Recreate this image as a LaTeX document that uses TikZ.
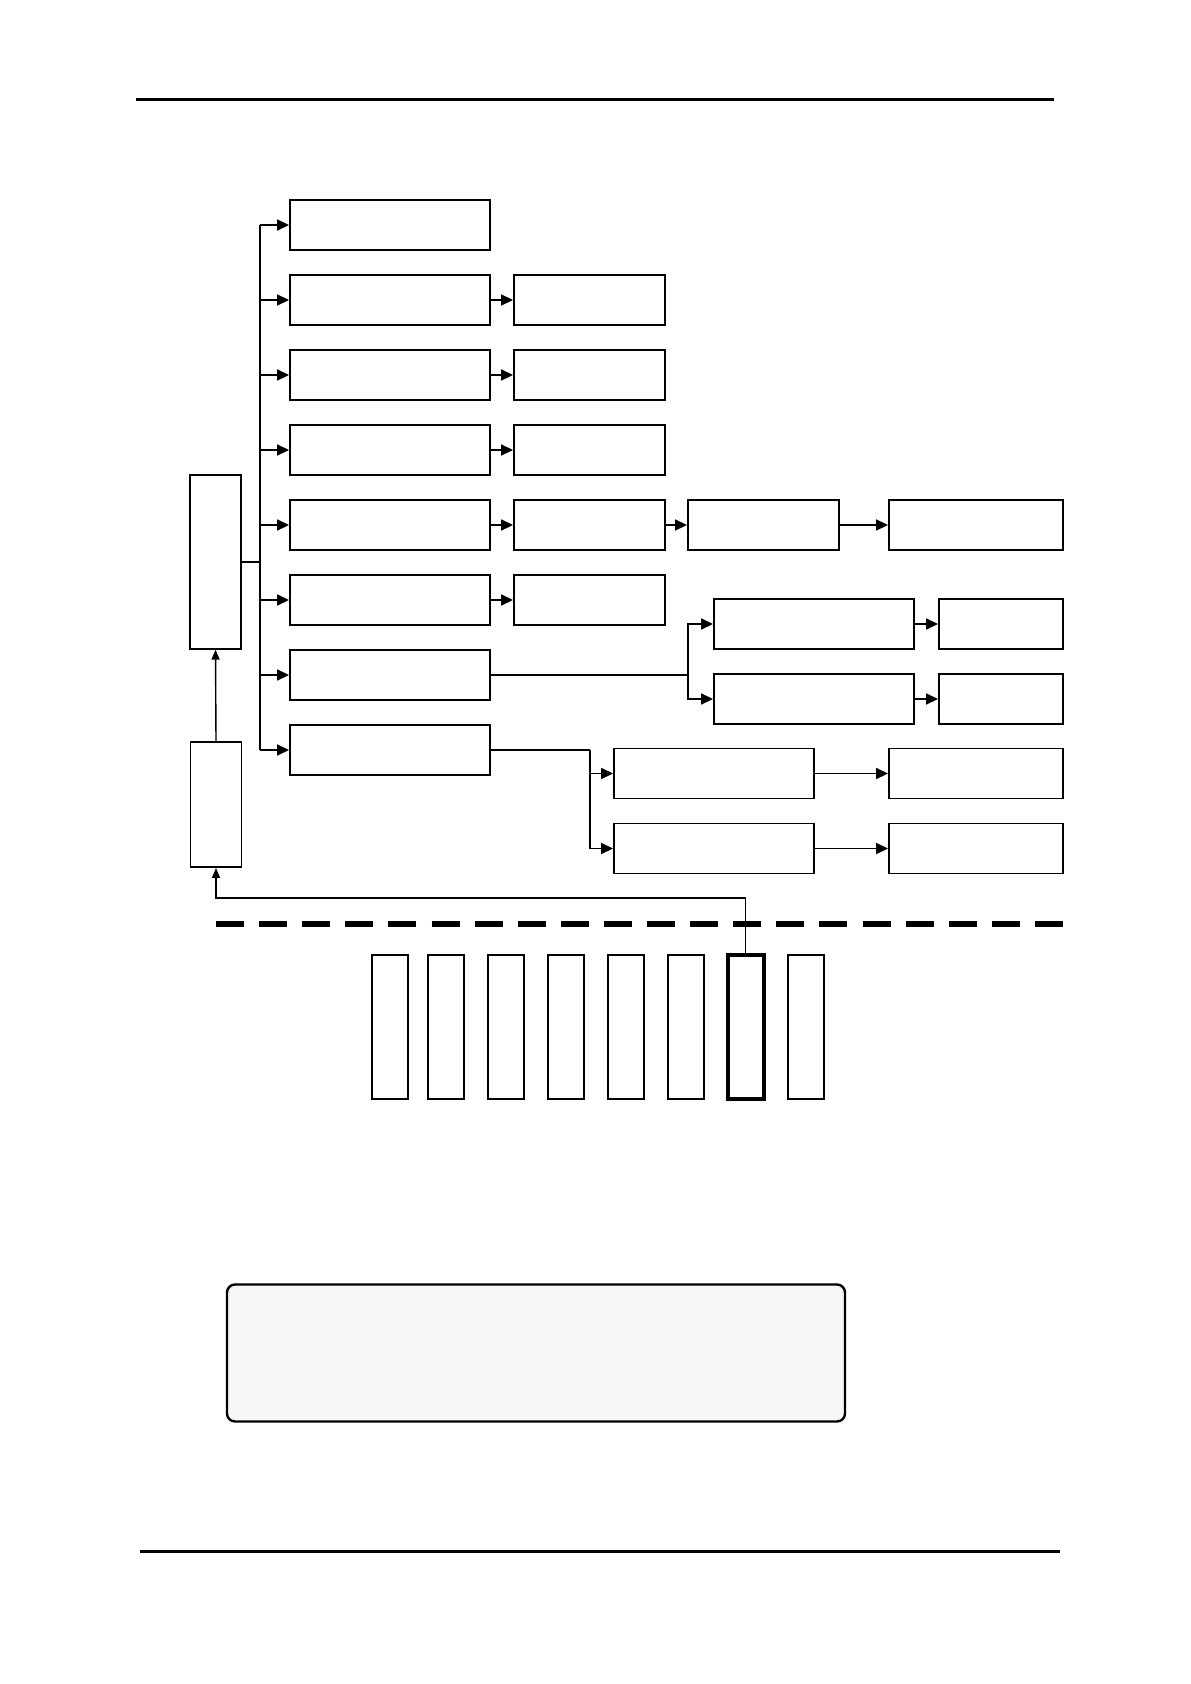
\documentclass[tikz,border=0pt]{standalone}
\usepackage{tikz}
\usetikzlibrary{arrows.meta}
\usepackage{xcolor}

\begin{document}
\begin{tikzpicture}[x=1pt, y=-1pt,
  block/.style={draw, line width=1.9pt, inner sep=0pt, minimum height=50pt},
  slim/.style={draw, line width=1.7pt, inner sep=0pt, minimum width=36pt, minimum height=144pt},
  feeds/.style={-{Triangle[length=12pt, width=11pt]}, line width=1.7pt},
  lift/.style={-{Triangle[length=10pt, width=8pt]}, line width=1.4pt},
  rule/.style={line width=3pt}
]
  \useasboundingbox (0,0) rectangle (1191,1684);

  % page rules
  \draw[rule] (136,99) -- (1054,99);
  \draw[rule] (140,1551) -- (1060,1551);

  % left column
  \node[block, minimum width=51pt, minimum height=174pt] (top) at (215.5,561.7) {};
  \node[block, minimum width=51pt, minimum height=125pt] (low) at (216,804.5) {};

  % first and second column
  \foreach \i in {1,...,8}
    \node[block, minimum width=200pt] (r\i) at (390,{225+75*(\i-1)}) {};
  \foreach \i in {2,...,6}
    \node[block, minimum width=151pt] (c\i) at (589.5,{225+75*(\i-1)}) {};

  \node[block, minimum width=151pt] (c5b) at (763.5,525) {};
  \node[block, minimum width=174pt] (c5c) at (976,525) {};

  \node[block, minimum width=200pt] (b7a) at (814,624) {};
  \node[block, minimum width=200pt] (b7b) at (814,699) {};
  \node[block, minimum width=124pt] (e7a) at (1001,624) {};
  \node[block, minimum width=124pt] (e7b) at (1001,699) {};

  \node[block, minimum width=200pt] (b8a) at (714,773.5) {};
  \node[block, minimum width=200pt] (b8b) at (714,848.5) {};
  \node[block, minimum width=174pt] (e8a) at (976,773.5) {};
  \node[block, minimum width=174pt] (e8b) at (976,848.5) {};

  % bus
  \coordinate (bus) at (260,561.7);
  \draw[line width=1.7pt] (top.east |- bus) -- (bus);
  \draw[line width=1.7pt] (bus |- r1.west) -- (bus |- r8.west);
  \foreach \i in {1,...,8}
    \draw[feeds] (bus |- r\i.west) -- (r\i.west);
  \foreach \i in {2,...,6}
    \draw[feeds] (r\i.east) -- (c\i.west);
  \draw[feeds] (c5.east) -- (c5b.west);
  \draw[feeds] (c5b.east) -- (c5c.west);

  \coordinate (j7) at (688,675);
  \draw[line width=1.7pt] (r7.east) -- (j7);
  \draw[feeds] (j7) |- (b7a.west);
  \draw[feeds] (j7) |- (b7b.west);
  \draw[feeds] (b7a.east) -- (e7a.west);
  \draw[feeds] (b7b.east) -- (e7b.west);

  \coordinate (j8) at (590,750);
  \draw[line width=1.7pt] (r8.east) -- (j8);
  \draw[feeds] (j8) |- (b8a.west);
  \draw[feeds] (j8) |- (b8b.west);
  \draw[feeds] (b8a.east) -- (e8a.west);
  \draw[feeds] (b8b.east) -- (e8b.west);

  % divider
  \draw[line width=6pt, dash pattern=on 28pt off 15.1pt] (216,923.6) -- (1063,923.6);

  % slim modules
  \foreach \x [count=\k] in {390,446,506,566,626,686,745.5,806}
    \node[slim] (s\k) at (\x,1027) {};
  \node[slim, line width=4pt] at (s7) {};

  \draw[lift] (low.north) -- (top.south);
  \coordinate (fb) at (745.5,898);
  \draw[lift] (s7.north) -- (fb) -| (low.south);

  % note
  \node[draw, line width=2.4pt, rounded corners=8pt, fill=gray!6,
    minimum width=618pt, minimum height=137pt] (note) at (536,1353) {};
\end{tikzpicture}
\end{document}
